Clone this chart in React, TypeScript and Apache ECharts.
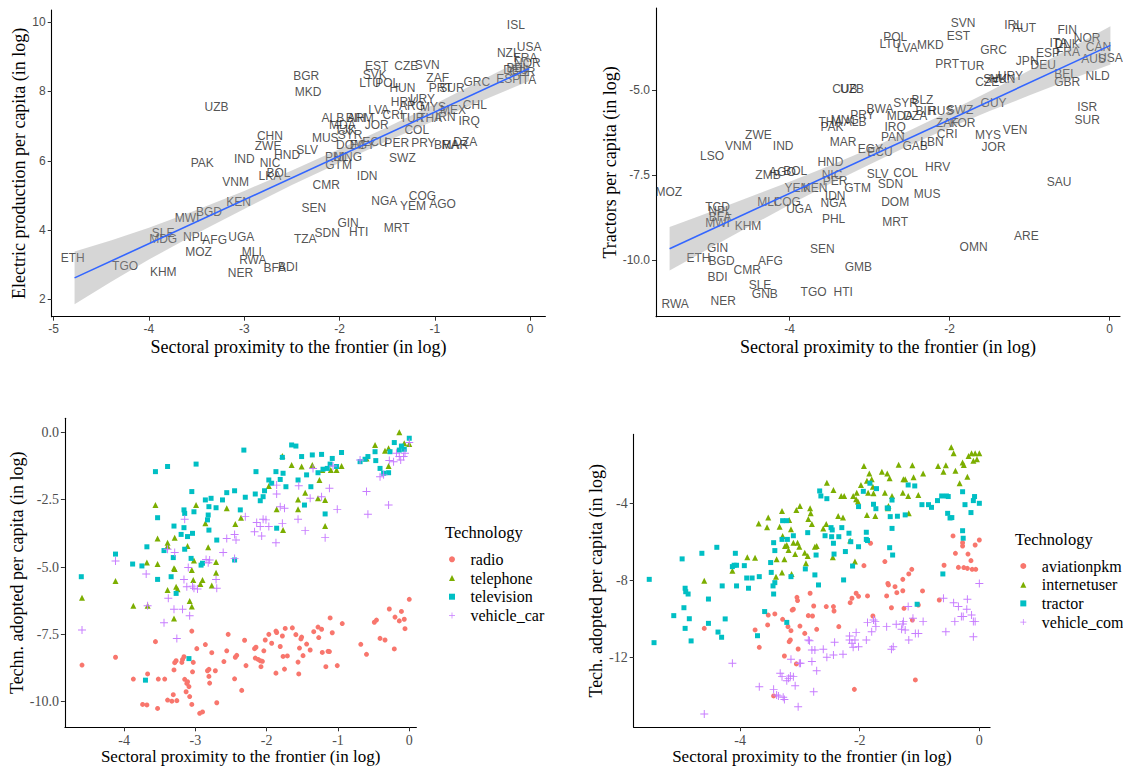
import React, { useEffect, useRef } from "react";
import * as echarts from "echarts";

const SANS = '"Liberation Sans", Arial, sans-serif';
const SERIF = '"Liberation Serif", "Times New Roman", serif';

// ---------- Top-left: electric production per capita ----------
const TL_POINTS: [string, number, number][] = [
  ["ISL", -0.15, 9.92], ["USA", -0.01, 9.28], ["NZL", -0.23, 9.11], ["FRA", -0.05, 8.96], ["NOR", -0.03, 8.82],
  ["DEU", -0.15, 8.62], ["BEL", -0.13, 8.67], ["GBR", -0.08, 8.56], ["ESP", -0.23, 8.36], ["ITA", -0.03, 8.33],
  ["GRC", -0.56, 8.27], ["CHL", -0.58, 7.61], ["IRQ", -0.64, 7.15], ["IRN", -0.89, 7.26], ["MEX", -0.81, 7.46],
  ["DZA", -0.68, 6.54], ["BRA", -0.88, 6.45], ["MAR", -0.79, 6.45], ["ZAF", -0.97, 8.39], ["PRT", -0.94, 8.10],
  ["SUR", -0.82, 8.10], ["CZE", -1.30, 8.73], ["SVN", -1.08, 8.76], ["EST", -1.61, 8.73], ["SVK", -1.63, 8.47],
  ["LTU", -1.68, 8.24], ["POL", -1.50, 8.24], ["HUN", -1.34, 8.10], ["HRV", -1.33, 7.69], ["URY", -1.13, 7.78],
  ["ARG", -1.24, 7.58], ["LVA", -1.59, 7.46], ["CRI", -1.44, 7.32], ["MYS", -1.02, 7.55], ["THA", -1.05, 7.23],
  ["TUR", -1.24, 7.23], ["COL", -1.19, 6.89], ["PER", -1.40, 6.51], ["PRY", -1.12, 6.51], ["SWZ", -1.34, 6.08],
  ["ALB", -2.07, 7.23], ["MDA", -1.97, 7.03], ["ARM", -1.78, 7.23], ["JOR", -1.61, 7.03], ["BIH", -1.83, 7.23],
  ["MUS", -2.15, 6.66], ["SYR", -1.89, 6.74], ["DOM", -1.89, 6.45], ["ECU", -1.63, 6.54], ["EGY", -1.76, 6.45],
  ["SLV", -2.34, 6.31], ["HND", -2.55, 6.16], ["CHN", -2.73, 6.71], ["ZWE", -2.75, 6.42], ["NIC", -2.73, 5.93],
  ["IND", -3.00, 6.05], ["PAK", -3.44, 5.93], ["UZB", -3.29, 7.55], ["BGR", -2.35, 8.44], ["MKD", -2.33, 7.98],
  ["BOL", -2.64, 5.65], ["LKA", -2.73, 5.56], ["VNM", -3.09, 5.39], ["KEN", -3.06, 4.81], ["BGD", -3.37, 4.52],
  ["MWI", -3.60, 4.35], ["SLE", -3.85, 3.91], ["MDG", -3.85, 3.74], ["NPL", -3.52, 3.80], ["AFG", -3.31, 3.71],
  ["UGA", -3.03, 3.80], ["MOZ", -3.48, 3.37], ["ETH", -4.80, 3.19], ["TGO", -4.25, 2.96], ["KHM", -3.85, 2.79],
  ["MLI", -2.92, 3.37], ["RWA", -2.91, 3.13], ["NER", -3.04, 2.76], ["BFA", -2.68, 2.90], ["BDI", -2.54, 2.93],
  ["TZA", -2.36, 3.74], ["SDN", -2.13, 3.91], ["GIN", -1.91, 4.20], ["HTI", -1.80, 3.94], ["SEN", -2.27, 4.63],
  ["CMR", -2.14, 5.30], ["IDN", -1.71, 5.56], ["NGA", -1.53, 4.84], ["COG", -1.13, 4.98], ["YEM", -1.23, 4.69],
  ["AGO", -0.92, 4.75], ["MRT", -1.40, 4.06], ["GTM", -2.01, 5.88], ["PHL", -2.03, 6.11], ["MNG", -1.91, 6.11],
  ["TJK", -1.94, 6.89],
];
const TL_FIT_X = [-4.78, -0.01];
const TL_FIT_Y = [2.62, 8.66];
const TL_BAND_X = [-4.78, -4.4, -4.0, -3.5, -3.0, -2.5, -2.0, -1.5, -1.0, -0.5, -0.01];
const TL_BAND_LO = [1.86, 2.50, 3.15, 3.90, 4.61, 5.30, 5.94, 6.57, 7.16, 7.74, 8.30];
const TL_BAND_HI = [3.38, 3.70, 4.07, 4.58, 5.13, 5.72, 6.34, 6.97, 7.64, 8.34, 9.02];
const TL_XTICKS = [-5, -4, -3, -2, -1, 0];
const TL_YTICKS = [2, 4, 6, 8, 10];

// ---------- Top-right: tractors per capita ----------
const TR_POINTS: [string, number, number][] = [
  ["POL", -2.68, -3.43], ["LTU", -2.74, -3.66], ["LVA", -2.53, -3.78], ["MKD", -2.24, -3.69], ["SVN", -1.83, -3.04],
  ["EST", -1.89, -3.40], ["IRL", -1.20, -3.10], ["AUT", -1.07, -3.19], ["FIN", -0.53, -3.25], ["NOR", -0.28, -3.46],
  ["ITA", -0.64, -3.63], ["DNK", -0.53, -3.66], ["CAN", -0.14, -3.75], ["GRC", -1.45, -3.84], ["ESP", -0.77, -3.90],
  ["FRA", -0.52, -3.87], ["JPN", -1.03, -4.16], ["DEU", -0.83, -4.28], ["AUS", -0.20, -4.10], ["USA", 0.01, -4.07],
  ["NLD", -0.15, -4.60], ["BEL", -0.55, -4.54], ["GBR", -0.53, -4.78], ["PRT", -2.03, -4.25], ["TUR", -1.72, -4.31],
  ["CZE", -1.53, -4.78], ["HUN", -1.34, -4.69], ["URY", -1.24, -4.60], ["SVK", -1.43, -4.69], ["GUY", -1.45, -5.37],
  ["ISR", -0.28, -5.49], ["SUR", -0.28, -5.87], ["VEN", -1.18, -6.19], ["MYS", -1.52, -6.34], ["JOR", -1.45, -6.69],
  ["KOR", -1.84, -5.96], ["ZAF", -2.03, -5.96], ["SWZ", -1.87, -5.60], ["CRI", -2.03, -6.31], ["LBN", -2.22, -6.54],
  ["GAB", -2.43, -6.66], ["PAN", -2.71, -6.37], ["IRQ", -2.68, -6.10], ["BIH", -2.30, -5.63], ["RUS", -2.11, -5.63],
  ["SYR", -2.55, -5.37], ["BLZ", -2.34, -5.31], ["MDA", -2.62, -5.78], ["DZA", -2.43, -5.78], ["BWA", -2.87, -5.57],
  ["UZB", -3.22, -4.96], ["CUB", -3.31, -4.96], ["THA", -3.49, -5.93], ["MNG", -3.31, -5.87], ["ALB", -3.18, -5.93],
  ["PRY", -3.09, -5.75], ["PAK", -3.47, -6.10], ["MAR", -3.33, -6.54], ["ECU", -2.87, -6.84], ["EGY", -2.99, -6.75],
  ["HND", -3.49, -7.13], ["ZWE", -4.39, -6.34], ["VNM", -4.64, -6.66], ["IND", -4.08, -6.66], ["LSO", -4.97, -6.93],
  ["MOZ", -5.51, -8.01], ["ZMB", -4.27, -7.49], ["AGO", -4.09, -7.40], ["BOL", -3.93, -7.37], ["NIC", -3.47, -7.49],
  ["PER", -3.43, -7.69], ["SLV", -2.90, -7.46], ["GTM", -3.15, -7.87], ["YEM", -3.90, -7.87], ["KEN", -3.68, -7.87],
  ["IDN", -3.43, -8.13], ["NGA", -3.45, -8.34], ["SDN", -2.74, -7.78], ["COL", -2.55, -7.43], ["HRV", -2.15, -7.28],
  ["DOM", -2.68, -8.31], ["MUS", -2.28, -8.07], ["MRT", -2.68, -8.87], ["SAU", -0.63, -7.72], ["ARE", -1.04, -9.31],
  ["OMN", -1.70, -9.63], ["PHL", -3.45, -8.81], ["UGA", -3.88, -8.49], ["MLI", -4.28, -8.31], ["COG", -4.03, -8.31],
  ["KHM", -4.52, -9.01], ["MWI", -4.90, -8.90], ["TCD", -4.90, -8.43], ["NPL", -4.87, -8.57], ["BFA", -4.87, -8.75],
  ["ETH", -5.14, -9.93], ["GIN", -4.90, -9.66], ["BGD", -4.85, -10.04], ["AFG", -4.24, -10.04], ["CMR", -4.53, -10.31],
  ["BDI", -4.90, -10.51], ["SLE", -4.37, -10.75], ["GNB", -4.31, -11.01], ["NER", -4.83, -11.22], ["RWA", -5.43, -11.31],
  ["TGO", -3.70, -10.93], ["HTI", -3.33, -10.93], ["SEN", -3.59, -9.69], ["GMB", -3.14, -10.22],
];
const TR_FIT_X = [-5.5, 0.01];
const TR_FIT_Y = [-9.67, -3.69];
const TR_BAND_X = [-5.5, -5.0, -4.5, -4.0, -3.5, -3.0, -2.5, -2.0, -1.5, -1.0, -0.5, 0.01];
const TR_BAND_LO = [-10.31, -9.66, -9.01, -8.38, -7.77, -7.19, -6.63, -6.11, -5.62, -5.16, -4.70, -4.25];
const TR_BAND_HI = [-9.03, -8.60, -8.15, -7.70, -7.23, -6.73, -6.19, -5.63, -5.04, -4.42, -3.78, -3.13];
const TR_XTICKS = [-4, -2, 0];
const TR_YTICKS = [-10, -7.5, -5];

// ---------- Bottom-left: radio, telephone, television, vehicle_car ----------
const RADIO: number[][] = [
  [-4.59,-8.64],[-4.12,-8.35],[-3.87,-9.16],[-3.74,-10.10],[-3.68,-10.12],[-3.67,-8.97],[-3.56,-7.77],[-3.53,-10.25],
  [-3.52,-9.16],[-3.43,-9.16],[-3.39,-9.94],[-3.33,-9.98],[-3.31,-9.74],[-3.30,-8.82],[-3.26,-9.96],[-3.29,-8.55],
  [-3.27,-8.48],[-3.19,-8.54],[-3.18,-8.43],[-3.16,-8.33],[-3.15,-9.17],[-3.12,-9.32],[-3.13,-9.63],[-3.11,-9.26],
  [-3.09,-9.44],[-3.08,-9.81],[-3.05,-7.38],[-3.05,-10.10],[-3.03,-8.54],[-3.04,-8.89],[-2.98,-8.03],[-2.94,-10.43],
  [-2.90,-10.38],[-2.86,-7.88],[-2.83,-8.85],[-2.81,-9.06],[-2.81,-8.80],[-2.80,-9.31],[-2.77,-8.18],[-2.72,-8.85],
  [-2.70,-10.04],[-2.56,-8.11],[-2.54,-7.50],[-2.60,-8.51],[-2.45,-9.15],[-2.44,-8.35],[-2.42,-8.28],[-2.35,-9.58],
  [-2.31,-7.72],[-2.29,-8.66],[-2.17,-8.03],[-2.15,-7.98],[-2.16,-8.38],[-2.12,-8.43],[-2.09,-8.48],[-2.08,-8.70],
  [-2.06,-8.50],[-2.04,-8.11],[-2.02,-7.71],[-1.97,-7.50],[-1.93,-7.83],[-1.87,-7.38],[-1.86,-7.43],[-1.87,-8.94],
  [-1.81,-7.95],[-1.78,-7.56],[-1.77,-8.32],[-1.75,-8.79],[-1.74,-7.28],[-1.71,-8.30],[-1.64,-7.26],[-1.59,-7.51],
  [-1.56,-8.53],[-1.55,-8.97],[-1.54,-8.01],[-1.52,-7.67],[-1.51,-7.60],[-1.49,-8.29],[-1.44,-7.86],[-1.39,-8.08],
  [-1.34,-7.40],[-1.28,-7.23],[-1.27,-7.62],[-1.23,-7.31],[-1.22,-8.17],[-1.17,-8.70],[-1.14,-8.13],[-1.12,-8.14],
  [-1.11,-6.89],[-1.08,-7.44],[-1.01,-8.66],[-0.94,-7.10],[-0.68,-7.87],[-0.60,-8.24],[-0.49,-7.05],[-0.46,-6.97],
  [-0.41,-7.65],[-0.34,-7.71],[-0.28,-6.56],[-0.21,-8.04],[-0.20,-6.86],[-0.14,-7.00],[-0.11,-6.65],[-0.07,-6.94],
  [-0.06,-7.29],[0.00,-6.20],
];
const TELEPHONE: number[][] = [
  [-4.59,-6.14],[-4.12,-5.52],[-3.87,-6.44],[-3.68,-4.83],[-3.67,-6.44],[-3.56,-2.70],[-3.53,-4.89],[-3.53,-3.94],
  [-3.39,-4.10],[-3.39,-5.85],[-3.39,-4.22],[-3.30,-6.91],[-3.30,-5.05],[-3.29,-3.91],[-3.27,-5.73],[-3.29,-5.07],
  [-3.25,-5.83],[-3.11,-4.22],[-3.08,-6.26],[-3.05,-5.11],[-3.05,-6.47],[-3.03,-5.48],[-3.02,-4.76],[-2.99,-2.70],
  [-2.93,-5.63],[-2.90,-5.48],[-2.86,-3.38],[-2.82,-4.27],[-2.77,-5.69],[-2.71,-4.81],[-2.71,-5.21],[-2.56,-2.82],
  [-2.44,-3.40],[-2.36,-3.17],[-1.97,-1.99],[-1.86,-2.86],[-1.78,-0.88],[-1.77,-3.63],[-1.65,-1.21],[-1.56,-2.49],
  [-1.56,-2.86],[-1.51,-1.27],[-1.46,-2.24],[-1.36,-1.21],[-1.28,-2.45],[-1.26,-1.77],[-1.18,-2.51],[-1.18,-3.48],
  [-1.22,-1.40],[-1.10,-1.40],[-1.02,-1.40],[-0.95,-1.25],[-0.60,-0.97],[-0.48,-0.47],[-0.34,-0.68],[-0.29,-0.59],
  [-0.29,-1.25],[-0.14,0.00],[-0.07,-0.41],[0.00,-0.43],
];
const TELEVISION: number[][] = [
  [-4.60,-5.36],[-4.12,-4.52],[-3.88,-4.89],[-3.75,-4.96],[-3.68,-4.25],[-3.56,-1.46],[-3.53,-5.46],[-3.53,-3.17],
  [-3.44,-4.39],[-3.39,-1.27],[-3.34,-5.36],[-3.30,-3.48],[-3.31,-4.65],[-3.27,-5.98],[-3.20,-3.79],[-3.16,-3.54],
  [-3.15,-4.34],[-3.16,-2.88],[-3.15,-3.01],[-3.11,-3.87],[-3.06,-4.68],[-3.05,-2.20],[-3.04,-3.75],[-3.02,-2.95],
  [-2.99,-1.18],[-2.92,-4.93],[-2.90,-4.86],[-2.86,-2.51],[-2.83,-3.25],[-2.82,-3.07],[-2.81,-3.63],[-2.78,-2.45],
  [-2.81,-2.76],[-2.71,-2.80],[-2.70,-4.00],[-2.62,-2.51],[-2.56,-2.24],[-2.45,-2.17],[-2.45,-4.74],[-2.37,-2.88],
  [-2.32,-0.66],[-2.30,-2.41],[-2.16,-2.29],[-2.15,-1.46],[-2.09,-2.54],[-2.05,-2.39],[-2.03,-2.17],[-1.97,-1.77],
  [-1.93,-1.89],[-1.87,-1.46],[-1.86,-3.56],[-1.81,-1.75],[-1.78,-0.93],[-1.77,-1.52],[-1.73,-2.02],[-1.65,-0.47],
  [-1.59,-0.51],[-1.56,-1.77],[-1.51,-0.90],[-1.47,-2.70],[-1.44,-1.58],[-1.38,-2.02],[-1.36,-0.84],[-1.28,-1.50],
  [-1.23,-0.82],[-1.21,-1.37],[-1.18,-3.03],[-1.15,-1.34],[-1.11,-1.18],[-1.08,-0.97],[-1.02,-1.27],[-0.95,-0.75],
  [-0.69,-1.09],[-0.62,-1.00],[-0.58,-0.90],[-0.48,-0.72],[-0.47,-1.05],[-0.41,-1.34],[-0.36,-1.52],[-0.29,-1.50],
  [-0.27,-0.72],[-0.21,-0.38],[-0.14,-0.66],[-0.11,-0.51],[-0.07,-0.63],[0.00,-0.22],[-3.70,-9.20],[-3.09,-8.40],
];
const VEHICLE_CAR: number[][] = [
  [-4.59,-7.34],[-4.12,-4.78],[-3.69,-5.26],[-3.67,-6.44],[-3.44,-7.07],[-3.39,-4.34],[-3.38,-6.16],[-3.29,-4.46],
  [-3.26,-7.65],[-3.30,-6.57],[-3.18,-6.57],[-3.16,-5.46],[-3.15,-3.23],[-3.12,-5.73],[-3.08,-6.81],[-3.04,-5.71],
  [-3.02,-5.79],[-2.97,-5.82],[-3.10,-5.02],[-2.85,-4.72],[-2.82,-4.84],[-2.80,-4.74],[-2.71,-5.46],[-2.70,-5.79],
  [-2.61,-4.46],[-2.56,-3.94],[-2.45,-3.79],[-2.43,-4.00],[-2.45,-4.68],[-2.30,-3.13],[-2.17,-3.69],[-2.14,-3.35],
  [-2.09,-3.50],[-2.07,-3.85],[-2.05,-3.23],[-2.01,-3.25],[-1.97,-3.50],[-1.87,-4.10],[-1.86,-2.29],[-1.81,-2.76],
  [-1.78,-3.38],[-1.75,-2.82],[-1.56,-3.23],[-1.55,-1.98],[-1.46,-3.65],[-1.39,-2.45],[-1.35,-1.34],[-1.23,-2.39],
  [-1.18,-3.91],[-1.12,-2.08],[-1.01,-2.86],[-0.69,-1.03],[-0.60,-2.20],[-0.58,-3.04],[-0.41,-1.65],[-0.36,-1.58],
  [-0.29,-2.70],[-0.28,-1.05],[-0.22,-1.09],[-0.18,-0.78],[-0.14,-0.90],[-0.12,-1.03],[-0.08,-0.90],[-0.06,-0.78],
  [0.00,-0.38],[-1.07,-1.25],[-1.86,-1.96],
];
const BL_XTICKS = [-4, -3, -2, -1, 0];
const BL_YTICKS = [-10, -7.5, -5, -2.5, 0];

// ---------- Bottom-right: aviationpkm, internetuser, tractor, vehicle_com ----------
const AVIATION: number[][] = [
  [-4.60,-10.48],[-3.68,-11.46],[-3.75,-10.56],[-3.54,-10.30],[-3.42,-9.73],[-3.53,-9.79],[-3.44,-13.98],[-3.29,-10.01],
  [-3.26,-11.91],[-3.20,-10.39],[-3.18,-11.17],[-3.16,-11.08],[-3.15,-10.60],[-3.13,-9.53],[-3.11,-9.49],[-3.06,-12.32],
  [-3.05,-8.87],[-3.04,-9.04],[-3.03,-11.55],[-3.00,-10.36],[-2.92,-10.74],[-2.86,-9.82],[-2.83,-8.66],[-2.79,-9.84],
  [-2.77,-9.32],[-2.72,-10.53],[-2.56,-9.35],[-2.44,-9.35],[-2.43,-9.58],[-2.35,-10.39],[-2.16,-9.15],[-2.13,-8.92],
  [-2.09,-13.64],[-2.06,-8.66],[-2.02,-8.82],[-1.93,-7.23],[-1.87,-8.80],[-1.82,-6.07],[-1.78,-9.84],[-1.58,-7.02],
  [-1.55,-8.80],[-1.53,-8.15],[-1.52,-8.23],[-1.47,-9.41],[-1.41,-8.32],[-1.38,-8.63],[-1.28,-8.53],[-1.28,-7.94],
  [-1.26,-9.44],[-1.18,-7.66],[-1.13,-7.42],[-1.12,-10.05],[-1.07,-13.15],[-1.02,-9.27],[-0.95,-8.54],[-0.67,-9.01],
  [-0.59,-7.21],[-0.44,-5.69],[-0.40,-6.59],[-0.35,-7.32],[-0.28,-6.04],[-0.28,-6.21],[-0.26,-7.33],[-0.19,-6.63],
  [-0.14,-6.97],[-0.12,-7.42],[-0.07,-6.16],[-0.06,-7.42],[0.00,-5.90],[-0.20,-7.37],
];
const INTERNET: number[][] = [
  [-4.60,-8.01],[-4.13,-7.49],[-3.88,-6.80],[-3.75,-6.82],[-3.69,-5.04],[-3.55,-5.24],[-3.53,-4.74],[-3.40,-7.80],
  [-3.39,-6.90],[-3.34,-5.21],[-3.30,-4.40],[-3.30,-7.59],[-3.26,-6.90],[-3.29,-5.69],[-3.25,-6.21],[-3.22,-6.16],
  [-3.19,-6.42],[-3.18,-4.86],[-3.15,-5.35],[-3.14,-7.66],[-3.11,-6.04],[-3.08,-6.63],[-3.06,-4.35],[-3.04,-6.04],
  [-3.00,-4.14],[-3.01,-6.25],[-2.92,-6.56],[-2.90,-7.11],[-2.87,-6.73],[-2.86,-4.81],[-2.83,-4.26],[-2.82,-4.52],
  [-2.80,-5.07],[-2.75,-6.25],[-2.72,-6.21],[-2.61,-5.30],[-2.56,-5.07],[-2.55,-2.93],[-2.45,-6.80],[-2.44,-3.31],
  [-2.36,-4.66],[-2.31,-3.62],[-2.28,-4.73],[-2.26,-3.62],[-2.16,-5.93],[-2.11,-3.62],[-2.08,-7.02],[-2.06,-3.79],
  [-2.05,-3.45],[-2.03,-3.91],[-1.98,-3.05],[-1.93,-2.07],[-1.88,-4.60],[-1.88,-2.83],[-1.86,-3.45],[-1.84,-2.45],
  [-1.78,-3.14],[-1.77,-3.48],[-1.74,-4.66],[-1.80,-2.76],[-1.63,-2.36],[-1.58,-3.45],[-1.54,-2.45],[-1.53,-4.26],
  [-1.52,-4.14],[-1.50,-2.70],[-1.46,-3.62],[-1.35,-2.00],[-1.27,-2.76],[-1.28,-3.45],[-1.24,-2.76],[-1.19,-3.62],
  [-1.18,-4.52],[-1.12,-2.03],[-1.10,-2.65],[-1.02,-3.57],[-0.94,-2.45],[-0.69,-2.07],[-0.60,-2.36],[-0.56,-2.03],
  [-0.47,-1.10],[-0.43,-1.41],[-0.40,-2.31],[-0.33,-2.96],[-0.28,-1.89],[-0.26,-2.01],[-0.20,-2.62],[-0.18,-1.55],
  [-0.13,-1.41],[-0.10,-1.79],[-0.07,-1.41],[-0.04,-1.72],[0.00,-1.41],
];
const TRACTOR: number[][] = [
  [-5.52,-7.94],[-5.44,-11.22],[-5.11,-9.82],[-4.97,-6.88],[-4.94,-9.41],[-4.92,-8.40],[-4.91,-8.58],[-4.87,-8.70],
  [-4.92,-10.48],[-4.85,-9.98],[-4.82,-11.13],[-4.53,-8.96],[-4.53,-10.22],[-4.64,-6.59],[-4.39,-6.28],[-4.37,-10.67],
  [-4.31,-10.94],[-4.30,-8.28],[-4.25,-9.99],[-4.13,-7.28],[-4.10,-7.21],[-4.06,-7.21],[-4.08,-6.59],[-4.06,-8.28],
  [-3.93,-7.23],[-3.89,-7.87],[-3.86,-8.40],[-3.80,-7.87],[-3.68,-7.80],[-3.71,-10.86],[-3.59,-9.61],[-3.49,-7.07],
  [-3.48,-7.58],[-3.44,-6.04],[-3.45,-8.28],[-3.44,-8.70],[-3.42,-8.11],[-3.42,-6.45],[-3.30,-5.87],[-3.29,-4.90],
  [-3.22,-4.90],[-3.21,-5.87],[-3.22,-10.17],[-3.15,-7.80],[-3.11,-5.68],[-2.91,-7.40],[-2.87,-5.52],[-2.75,-7.71],
  [-2.73,-6.68],[-2.69,-8.23],[-2.67,-3.36],[-2.65,-3.62],[-2.58,-5.68],[-2.55,-3.76],[-2.48,-5.26],[-2.47,-5.73],
  [-2.46,-5.38],[-2.44,-6.07],[-2.43,-6.63],[-2.35,-5.73],[-2.30,-5.26],[-2.27,-7.97],[-2.24,-6.50],[-2.18,-5.55],
  [-2.15,-5.99],[-2.12,-7.25],[-2.02,-6.25],[-2.02,-4.17],[-1.94,-3.38],[-1.89,-5.50],[-1.89,-5.87],[-1.87,-5.93],
  [-1.83,-2.96],[-1.77,-4.05],[-1.73,-4.28],[-1.72,-3.24],[-1.54,-4.24],[-1.52,-4.26],[-1.50,-6.30],[-1.49,-4.69],
  [-1.46,-3.83],[-1.46,-5.30],[-1.45,-6.68],[-1.37,-4.67],[-1.24,-4.60],[-1.19,-3.05],[-1.08,-3.10],[-1.04,-9.23],
  [-0.96,-4.07],[-0.85,-4.07],[-0.80,-4.21],[-0.70,-3.86],[-0.63,-3.62],[-0.61,-7.66],[-0.55,-3.62],[-0.53,-4.52],
  [-0.52,-3.65],[-0.49,-4.76],[-0.46,-4.74],[-0.28,-3.40],[-0.28,-5.42],[-0.27,-5.81],[-0.24,-4.07],[-0.14,-4.48],
  [-0.10,-3.86],[-0.08,-3.65],[0.00,-4.00],
];
const VEHICLE_COM: number[][] = [
  [-4.60,-14.92],[-4.13,-12.29],[-3.68,-13.50],[-3.44,-13.64],[-3.39,-13.93],[-3.36,-13.98],[-3.33,-12.81],[-3.30,-12.98],
  [-3.28,-14.05],[-3.26,-14.16],[-3.22,-13.19],[-3.19,-13.07],[-3.16,-12.95],[-3.15,-12.08],[-3.11,-12.98],[-3.08,-13.45],
  [-3.03,-14.54],[-3.01,-12.29],[-2.99,-12.29],[-2.86,-11.08],[-2.84,-11.12],[-2.80,-11.60],[-2.80,-12.20],[-2.77,-13.76],
  [-2.75,-11.60],[-2.72,-12.67],[-2.61,-11.56],[-2.55,-11.98],[-2.44,-11.86],[-2.42,-11.20],[-2.28,-11.82],[-2.17,-10.87],
  [-2.17,-11.08],[-2.13,-11.25],[-2.11,-11.46],[-2.08,-11.08],[-2.06,-10.70],[-2.02,-11.43],[-1.89,-11.08],[-1.87,-10.17],
  [-1.80,-10.65],[-1.77,-10.05],[-1.74,-10.13],[-1.73,-10.39],[-1.55,-10.39],[-1.47,-11.56],[-1.44,-11.43],[-1.39,-10.27],
  [-1.30,-10.53],[-1.28,-10.25],[-1.27,-10.13],[-1.24,-10.56],[-1.19,-9.35],[-1.18,-11.08],[-1.11,-9.96],[-1.07,-10.74],
  [-1.02,-10.74],[-0.94,-10.13],[-0.60,-8.92],[-0.56,-10.65],[-0.43,-9.15],[-0.41,-10.13],[-0.35,-9.35],[-0.30,-9.87],
  [-0.27,-9.87],[-0.20,-8.97],[-0.21,-9.49],[-0.13,-9.79],[-0.10,-10.13],[-0.10,-10.91],[-0.07,-10.13],[0.00,-8.15],
];
const BR_XTICKS = [-4, -2, 0];
const BR_YTICKS = [-12, -8, -4];

const C_RED = "#F8766D";
const C_GREEN = "#7CAE00";
const C_TEAL = "#00BFC4";
const C_PURPLE = "#C77CFF";
const PLUS = "path://M4.4,0H5.6V4.4H10V5.6H5.6V10H4.4V5.6H0V4.4H4.4Z";

function makeAxis(opts: any) {
  const { grid, min, max, ticks, fmt, labelFont, labelSize, name, nameGap, nameSize } = opts;
  return {
    type: "value",
    gridIndex: grid,
    min,
    max,
    name,
    nameLocation: "middle",
    nameGap,
    nameTextStyle: { fontFamily: SERIF, fontSize: nameSize, color: "#000" },
    axisLine: { show: true, onZero: false, lineStyle: { color: "#000", width: 1.1 } },
    axisTick: { show: true, length: 4, customValues: ticks, lineStyle: { color: "#333", width: 1 } },
    axisLabel: {
      customValues: ticks,
      formatter: fmt,
      color: "#4d4d4d",
      fontFamily: labelFont,
      fontSize: labelSize,
      margin: 6,
    },
    splitLine: { show: false },
  };
}

function bandSeries(idx: number, xs: number[], lo: number[], hi: number[]) {
  return {
    type: "custom",
    xAxisIndex: idx,
    yAxisIndex: idx,
    silent: true,
    z: 5,
    data: [[xs[0], lo[0]]],
    renderItem: (_params: any, api: any) => {
      const pts: number[][] = [];
      for (let i = 0; i < xs.length; i++) pts.push(api.coord([xs[i], hi[i]]));
      for (let i = xs.length - 1; i >= 0; i--) pts.push(api.coord([xs[i], lo[i]]));
      return { type: "polygon", shape: { points: pts }, style: { fill: "rgba(153,153,153,0.4)" } };
    },
  };
}

function fitSeries(idx: number, xs: number[], ys: number[]) {
  return {
    type: "line",
    xAxisIndex: idx,
    yAxisIndex: idx,
    silent: true,
    z: 6,
    showSymbol: false,
    data: xs.map((x, i) => [x, ys[i]]),
    lineStyle: { color: "#3366FF", width: 1.6 },
  };
}

function labelSeries(idx: number, pts: [string, number, number][]) {
  return {
    type: "scatter",
    xAxisIndex: idx,
    yAxisIndex: idx,
    silent: true,
    z: 2,
    symbolSize: 1,
    itemStyle: { color: "rgba(0,0,0,0)" },
    data: pts.map((p) => ({ name: p[0], value: [p[1], p[2]] })),
    label: {
      show: true,
      position: "inside",
      formatter: "{b}",
      color: "#262626",
      fontFamily: SANS,
      fontSize: 12,
    },
  };
}

function pointSeries(idx: number, name: string, data: number[][], color: string, symbol: string, size: number) {
  return {
    type: "scatter",
    name,
    xAxisIndex: idx,
    yAxisIndex: idx,
    silent: true,
    symbol,
    symbolSize: size,
    itemStyle: { color, opacity: 1 },
    data,
  };
}

const fmtInt = (v: number) => String(v);
const fmt1 = (v: number) => v.toFixed(1);

export default function App() {
  const ref = useRef<HTMLDivElement>(null);
  useEffect(() => {
    if (!ref.current) return;
    const chart = echarts.init(ref.current, null, { renderer: "svg" });
    const legendText = {
      fontFamily: SERIF,
      fontSize: 16,
      color: "#000",
      lineHeight: 16,
      padding: [0, 0, 0, 10.5],
    };
    const legendBase = {
      orient: "vertical",
      padding: 0,
      itemWidth: 6,
      itemHeight: 6,
      itemGap: 2.7,
      selectedMode: false,
      textStyle: legendText,
    };
    const option: any = {
      animation: false,
      backgroundColor: "#ffffff",
      grid: [
        { left: 51.7, top: 10, width: 493.7, height: 306.7 },
        { left: 656, top: 8, width: 464, height: 308.7 },
        { left: 64.9, top: 418.3, width: 351.5, height: 309 },
        { left: 633.7, top: 434.4, width: 356.4, height: 292.8 },
      ],
      xAxis: [
        makeAxis({ grid: 0, min: -5.02, max: 0.16, ticks: TL_XTICKS, fmt: fmtInt, labelFont: SANS, labelSize: 12,
          name: "Sectoral proximity to the frontier (in log)", nameGap: 21, nameSize: 18 }),
        makeAxis({ grid: 1, min: -5.67, max: 0.13, ticks: TR_XTICKS, fmt: fmtInt, labelFont: SANS, labelSize: 12,
          name: "Sectoral proximity to the frontier (in log)", nameGap: 21, nameSize: 18 }),
        makeAxis({ grid: 2, min: -4.83, max: 0.10, ticks: BL_XTICKS, fmt: fmtInt, labelFont: SERIF, labelSize: 14,
          name: "Sectoral proximity to the frontier (in log)", nameGap: 19, nameSize: 17 }),
        makeAxis({ grid: 3, min: -5.78, max: 0.18, ticks: BR_XTICKS, fmt: fmtInt, labelFont: SERIF, labelSize: 14,
          name: "Sectoral proximity to the frontier (in log)", nameGap: 19, nameSize: 17 }),
      ],
      yAxis: [
        makeAxis({ grid: 0, min: 1.5, max: 10.35, ticks: TL_YTICKS, fmt: fmtInt, labelFont: SANS, labelSize: 12,
          name: "Electric production per capita (in log)", nameGap: 24, nameSize: 18 }),
        makeAxis({ grid: 1, min: -11.67, max: -2.59, ticks: TR_YTICKS, fmt: fmt1, labelFont: SANS, labelSize: 12,
          name: "Tractors per capita (in log)", nameGap: 21, nameSize: 18 }),
        makeAxis({ grid: 2, min: -10.95, max: 0.52, ticks: BL_YTICKS, fmt: fmt1, labelFont: SERIF, labelSize: 14,
          name: "Techn. adopted per capita (in log)", nameGap: 39, nameSize: 18 }),
        makeAxis({ grid: 3, min: -15.6, max: -0.43, ticks: BR_YTICKS, fmt: fmtInt, labelFont: SERIF, labelSize: 14,
          name: "Tech. adopted per capita (in log)", nameGap: 28, nameSize: 18 }),
      ],
      legend: [
        {
          ...legendBase,
          left: 449,
          top: 551.3,
          data: [
            { name: "radio", icon: "circle" },
            { name: "telephone", icon: "triangle" },
            { name: "television", icon: "rect" },
            { name: "vehicle_car", icon: PLUS },
          ],
        },
        {
          ...legendBase,
          left: 1020.3,
          top: 558,
          data: [
            { name: "aviationpkm", icon: "circle" },
            { name: "internetuser", icon: "triangle" },
            { name: "tractor", icon: "rect" },
            { name: "vehicle_com", icon: PLUS },
          ],
        },
      ],
      graphic: [
        { type: "text", left: 445, top: 524, style: { text: "Technology", fontFamily: SERIF, fontSize: 16.5, fill: "#000" } },
        { type: "text", left: 1015, top: 531, style: { text: "Technology", fontFamily: SERIF, fontSize: 16.5, fill: "#000" } },
      ],
      series: [
        labelSeries(0, TL_POINTS),
        bandSeries(0, TL_BAND_X, TL_BAND_LO, TL_BAND_HI),
        fitSeries(0, TL_FIT_X, TL_FIT_Y),
        labelSeries(1, TR_POINTS),
        bandSeries(1, TR_BAND_X, TR_BAND_LO, TR_BAND_HI),
        fitSeries(1, TR_FIT_X, TR_FIT_Y),
        pointSeries(2, "radio", RADIO, C_RED, "circle", 5),
        pointSeries(2, "telephone", TELEPHONE, C_GREEN, "triangle", 6),
        pointSeries(2, "television", TELEVISION, C_TEAL, "rect", 5),
        pointSeries(2, "vehicle_car", VEHICLE_CAR, C_PURPLE, PLUS, 8),
        pointSeries(3, "aviationpkm", AVIATION, C_RED, "circle", 5),
        pointSeries(3, "internetuser", INTERNET, C_GREEN, "triangle", 6),
        pointSeries(3, "tractor", TRACTOR, C_TEAL, "rect", 5),
        pointSeries(3, "vehicle_com", VEHICLE_COM, C_PURPLE, PLUS, 8),
      ],
    };
    chart.setOption(option);
    return () => chart.dispose();
  }, []);
  return (
    <div
      ref={ref}
      style={{ position: "fixed", left: 0, top: 0, width: 1123, height: 774, background: "#fff" }}
    />
  );
}
